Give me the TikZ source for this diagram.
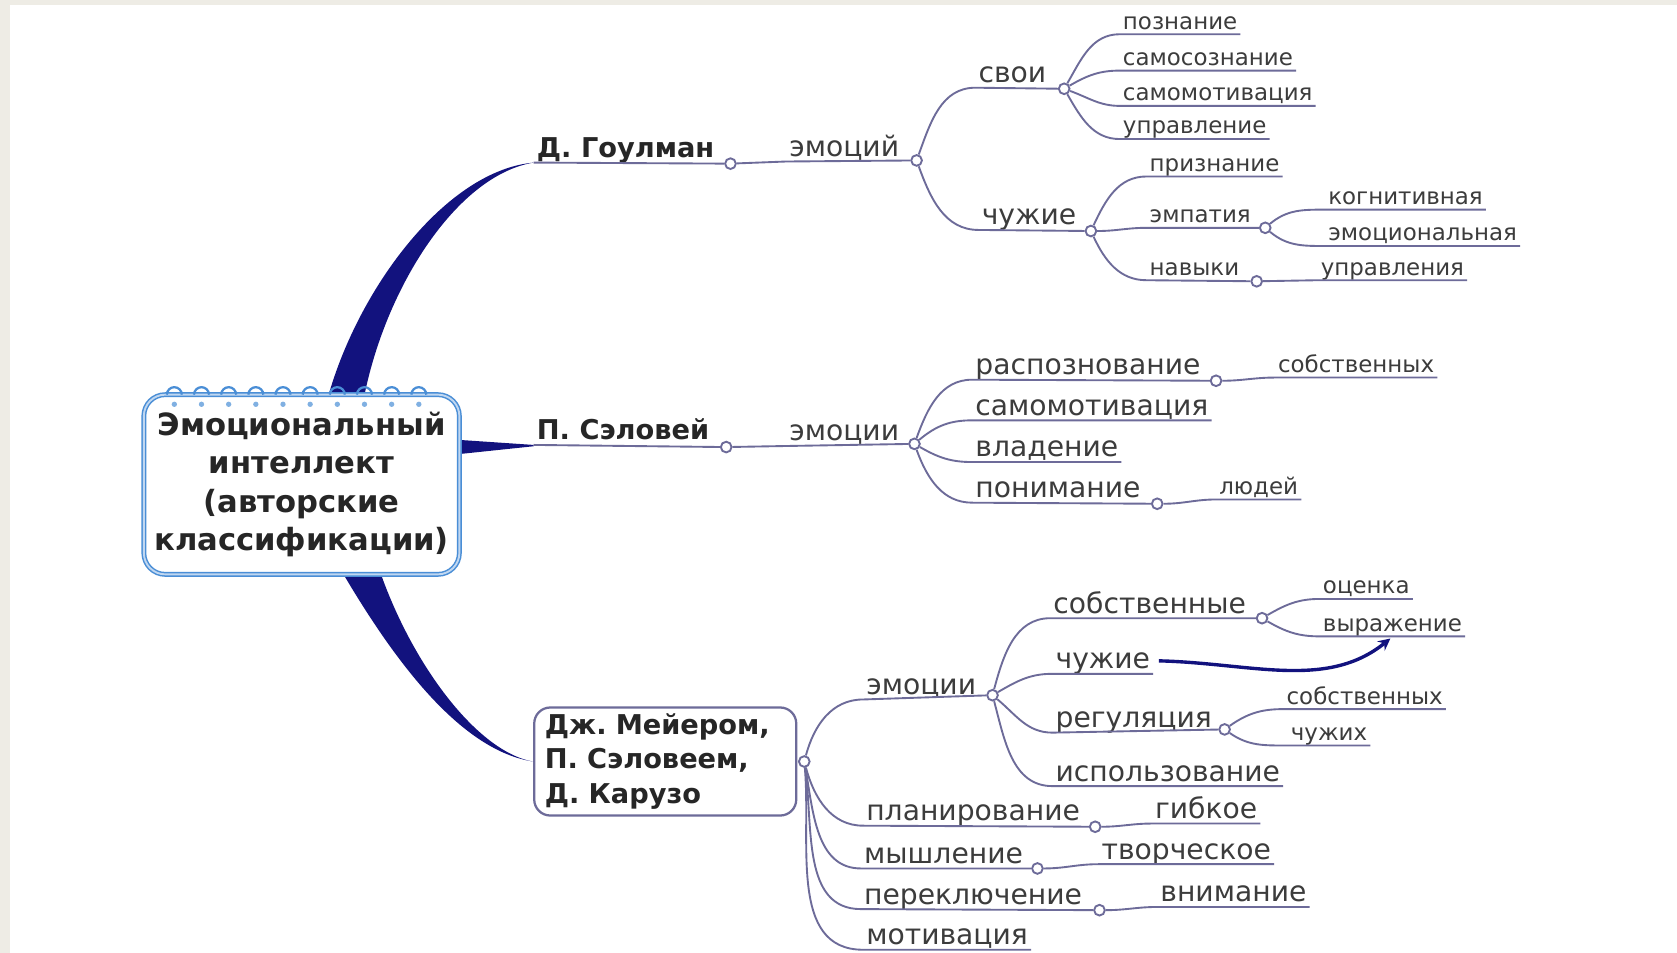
\documentclass[tikz,border=0pt]{standalone}
\usepackage{fontspec}
\setmainfont{DejaVu Sans}
\frenchspacing
\definecolor{paper}{HTML}{EEECE5}
\definecolor{twigc}{HTML}{6D6B99}
\definecolor{trunk}{HTML}{12127E}
\definecolor{boxc}{HTML}{4A8ED6}
\definecolor{inkc}{HTML}{3C3C3C}
\tikzset{
  twig/.style={draw=twigc, line width=1pt},
  knob/.style={circle, draw=twigc, fill=white, line width=1pt, inner sep=0pt, minimum size=2mm},
  bigtopic/.style={anchor=south west, inner xsep=1.5pt, inner ysep=2.5pt, text depth=0pt, text=inkc, font=\fontsize{15}{18}\selectfont},
  smalltopic/.style={bigtopic, font=\fontsize{12.2}{14}\selectfont},
  authortopic/.style={bigtopic, text=black!85, font=\bfseries\fontsize{14.5}{18}\selectfont},
}

\begin{document}
\begin{tikzpicture}[x=0.2mm, y=0.2mm]
  \useasboundingbox (0,0) rectangle (1568,-891);
  \fill[paper] (0,0) rectangle (1568,-891);
  \fill[white] (9,-5) rectangle (1568,-891);

  % authors
  \node[authortopic] (goul) at (499,-152) {Д. Гоулман};
  \node[authortopic] (selo) at (499,-416) {П. Сэловей};
  \node[draw=twigc, line width=1.2pt, rounded corners=3mm, fill=white, text width=45mm, inner xsep=2mm, minimum height=20.2mm, align=left, text=black!85, font=\bfseries\fontsize{14.5}{18.2}\selectfont] (mei) at (622,-712) {Дж. Мейером,\\П. Сэловеем,\\Д. Карузо};

  % trunks
  \fill[trunk] (300,-400) .. controls (320,-290) and (410,-160) .. (goul.south west) .. controls (420,-165) and (348,-290) .. (336,-400) -- cycle;
  \fill[trunk] (425,-411) -- (selo.south west) -- ([yshift=-0.7pt]selo.south west) -- (425,-425) -- cycle;
  \fill[trunk] (300,-500) .. controls (350,-590) and (420,-700) .. (mei.west) .. controls (440,-702) and (370,-600) .. (345,-500) -- cycle;

  % root
  \node[draw=boxc, line width=0.8pt, double=boxc!35, double distance=1pt, rounded corners=4mm, fill=white, minimum width=59mm, minimum height=33.6mm, align=center, text=black!85, font=\bfseries\fontsize{16.3}{20.5}\selectfont] (ei) at (282,-453) {Эмоциональный\\интеллект\\(авторские\\классификации)};
  \draw[boxc, line width=1.2pt] (156,-369) arc(180:0:7) ++(11.4,0) arc(180:0:7) ++(11.4,0) arc(180:0:7) ++(11.4,0) arc(180:0:7) ++(11.4,0) arc(180:0:7) ++(11.4,0) arc(180:0:7) ++(11.4,0) arc(180:0:7) ++(11.4,0) arc(180:0:7) ++(11.4,0) arc(180:0:7) ++(11.4,0) arc(180:0:7);
  \fill[boxc!70] (163,-378) circle (2.5) (188.4,-378) circle (2.5) (213.8,-378) circle (2.5) (239.2,-378) circle (2.5) (264.6,-378) circle (2.5) (290,-378) circle (2.5) (315.4,-378) circle (2.5) (340.8,-378) circle (2.5) (366.2,-378) circle (2.5) (391.6,-378) circle (2.5);

  % knobs
  \node[knob] (goulK) at (683,-153) {};
  \node[knob] (emo1K) at (857,-150) {};
  \node[knob] (svoiK) at (995,-83) {};
  \node[knob] (chuzhK) at (1020,-216) {};
  \node[knob] (empK) at (1183,-213) {};
  \node[knob] (navK) at (1175,-263) {};
  \node[knob] (seloK) at (679,-418) {};
  \node[knob] (emo2K) at (855,-415) {};
  \node[knob] (raspK) at (1137,-356) {};
  \node[knob] (ponK) at (1082,-471) {};
  \node[knob] (meiK) at (752,-712) {};
  \node[knob] (emo3K) at (928,-650) {};
  \node[knob] (sob2K) at (1180,-578) {};
  \node[knob] (regK) at (1145,-682) {};
  \node[knob] (planK) at (1024,-773) {};
  \node[knob] (myshK) at (970,-812) {};
  \node[knob] (pereklK) at (1028,-851) {};

  % Goulman
  \node[bigtopic] (emo1) at (735,-151) {эмоций};
  \node[bigtopic] (svoi) at (912,-82) {свои};
  \node[smalltopic] (poz) at (1047,-32) {познание};
  \node[smalltopic] (samsoz) at (1047,-66) {самосознание};
  \node[smalltopic] (sammot) at (1047,-99) {самомотивация};
  \node[smalltopic] (upr) at (1047,-130) {управление};
  \node[bigtopic] (chuzh) at (915,-215) {чужие};
  \node[smalltopic] (priz) at (1072,-165) {признание};
  \node[smalltopic] (emp) at (1072,-213) {эмпатия};
  \node[smalltopic] (kogn) at (1239,-196) {когнитивная};
  \node[smalltopic] (emoc) at (1239,-230) {эмоциональная};
  \node[smalltopic] (nav) at (1072,-262) {навыки};
  \node[smalltopic] (upr2) at (1232,-262) {управления};

  \draw[twig] (goul.south west) -- (goulK);
  \draw[twig] (goulK) -- (emo1.south west) -- (emo1K);
  \draw[twig] (emo1K) to[out=70,in=180] (svoi.south west) -- (svoiK);
  \draw[twig] (emo1K) to[out=-70,in=180] (chuzh.south west) -- (chuzhK);
  \draw[twig] (svoiK) to[out=60,in=180] (poz.south west) -- (poz.south east);
  \draw[twig] (svoiK) to[out=30,in=180] (samsoz.south west) -- (samsoz.south east);
  \draw[twig] (svoiK) to[out=-20,in=180] (sammot.south west) -- (sammot.south east);
  \draw[twig] (svoiK) to[out=-60,in=180] (upr.south west) -- (upr.south east);
  \draw[twig] (chuzhK) to[out=65,in=180] (priz.south west) -- (priz.south east);
  \draw[twig] (chuzhK) to[out=0,in=180] (emp.south west) -- (empK);
  \draw[twig] (chuzhK) to[out=-65,in=180] (nav.south west) -- (navK);
  \draw[twig] (empK) to[out=40,in=180] (kogn.south west) -- (kogn.south east);
  \draw[twig] (empK) to[out=-40,in=180] (emoc.south west) -- (emoc.south east);
  \draw[twig] (navK) -- (upr2.south west) -- (upr2.south east);

  % Selovey
  \node[bigtopic] (emo2) at (735,-417) {эмоции};
  \node[bigtopic] (rasp) at (909,-355) {распознование};
  \node[smalltopic] (sob1) at (1192,-353) {собственных};
  \node[bigtopic] (sammot2) at (909,-393) {самомотивация};
  \node[bigtopic] (vlad) at (909,-432) {владение};
  \node[bigtopic] (pon) at (909,-470) {понимание};
  \node[smalltopic] (lyud) at (1137,-467) {людей};

  \draw[twig] (selo.south west) -- (seloK);
  \draw[twig] (seloK) -- (emo2.south west) -- (emo2K);
  \draw[twig] (emo2K) to[out=70,in=180] (rasp.south west) -- (raspK);
  \draw[twig] (emo2K) to[out=40,in=180] (sammot2.south west) -- (sammot2.south east);
  \draw[twig] (emo2K) to[out=-30,in=180] (vlad.south west) -- (vlad.south east);
  \draw[twig] (emo2K) to[out=-70,in=180] (pon.south west) -- (ponK);
  \draw[twig] (raspK) to[out=0,in=180] (sob1.south west) -- (sob1.south east);
  \draw[twig] (ponK) to[out=0,in=180] (lyud.south west) -- (lyud.south east);

  % Meyer
  \node[bigtopic] (emo3) at (807,-654) {эмоции};
  \node[bigtopic] (sob2) at (982,-578) {собственные};
  \node[smalltopic] (oc) at (1234,-560) {оценка};
  \node[smalltopic] (vyr) at (1234,-595) {выражение};
  \node[bigtopic] (chuzh2) at (984,-630) {чужие};
  \node[bigtopic] (reg) at (984,-685) {регуляция};
  \node[smalltopic] (sob3) at (1200,-663) {собственных};
  \node[smalltopic] (chuzh3) at (1204,-697) {чужих};
  \node[bigtopic] (isp) at (984,-735) {использование};
  \node[bigtopic] (plan) at (807,-772) {планирование};
  \node[bigtopic] (gib) at (1077,-770) {гибкое};
  \node[bigtopic] (mysh) at (805,-812) {мышление};
  \node[bigtopic] (tvor) at (1027,-808) {творческое};
  \node[bigtopic] (perekl) at (805,-850) {переключение};
  \node[bigtopic] (vnim) at (1082,-848) {внимание};
  \node[bigtopic] (motiv) at (807,-888) {мотивация};
  \coordinate (vyrT) at (1300,-597);

  \draw[twig] (meiK) to[out=75,in=180] (emo3.south west) -- (emo3K);
  \draw[twig] (meiK) to[out=-75,in=180] (plan.south west) -- (planK);
  \draw[twig] (meiK) to[out=-80,in=180] (mysh.south west) -- (myshK);
  \draw[twig] (meiK) to[out=-82,in=180] (perekl.south west) -- (pereklK);
  \draw[twig] (meiK) to[out=-85,in=180] (motiv.south west) -- (motiv.south east);
  \draw[twig] (emo3K) to[out=75,in=180] (sob2.south west) -- (sob2K);
  \draw[twig] (emo3K) to[out=30,in=180] (chuzh2.south west) -- (chuzh2.south east);
  \draw[twig] (emo3K) to[out=-40,in=180] (reg.south west) -- (regK);
  \draw[twig] (emo3K) to[out=-75,in=180] (isp.south west) -- (isp.south east);
  \draw[twig] (sob2K) to[out=30,in=180] (oc.south west) -- (oc.south east);
  \draw[twig] (sob2K) to[out=-30,in=180] (vyr.south west) -- (vyr.south east);
  \draw[twig] (regK) to[out=35,in=180] (sob3.south west) -- (sob3.south east);
  \draw[twig] (regK) to[out=-35,in=180] (chuzh3.south west) -- (chuzh3.south east);
  \draw[twig] (planK) to[out=0,in=180] (gib.south west) -- (gib.south east);
  \draw[twig] (myshK) to[out=0,in=180] (tvor.south west) -- (tvor.south east);
  \draw[twig] (pereklK) to[out=0,in=180] (vnim.south west) -- (vnim.south east);
  \draw[trunk, line width=1.8pt, -stealth] ([xshift=3pt]chuzh2.east) .. controls (1170,-620) and (1240,-645) .. (vyrT);
\end{tikzpicture}
\end{document}
